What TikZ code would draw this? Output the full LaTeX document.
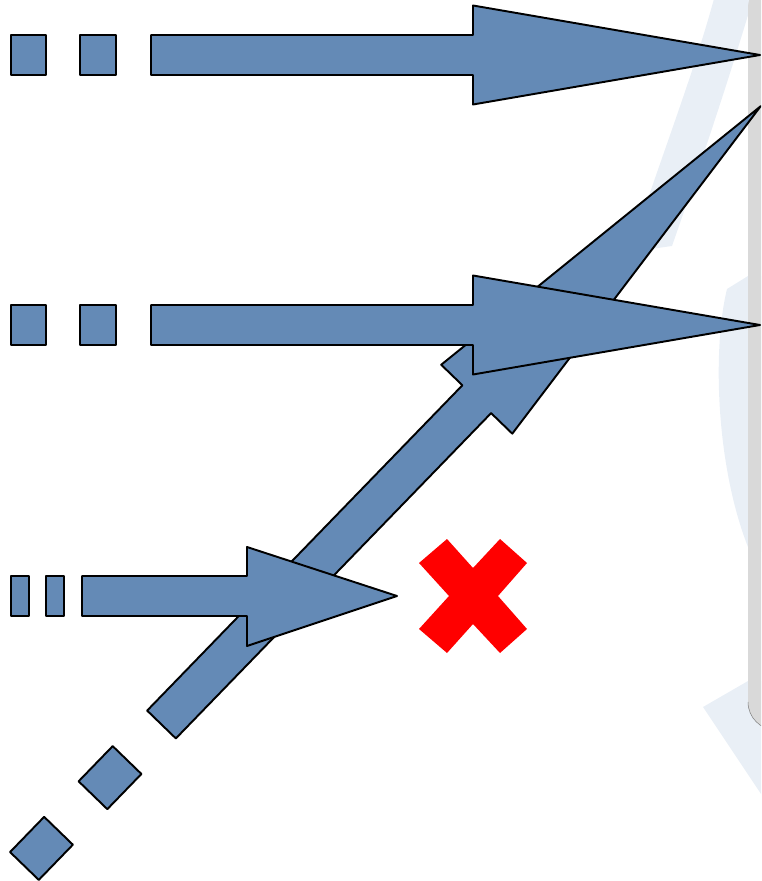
\documentclass[tikz,border=0pt]{standalone}
\usepackage{tikz}
\usetikzlibrary{positioning, calc}

\definecolor{arrowblue}{RGB}{100,138,182}
\definecolor{wmark}{RGB}{233,239,246}
\definecolor{bargray}{RGB}{217,217,217}

\begin{document}
\begin{tikzpicture}[x=0.02cm, y=-0.02cm,
    blockarrow/.style={fill=arrowblue, draw=black, line width=1.1pt, line join=round},
    cross/.style={fill=red}]
    \useasboundingbox (0,0) rectangle (761,881);
    \clip (0,0) rectangle (761,881);
    \fill[wmark] (715,-5) .. controls (695,70) and (660,160) .. (630,252)
        -- (672,246) .. controls (702,160) and (732,70) .. (754,-5) -- cycle;
    \fill[wmark] (748,276) -- (727,289) .. controls (712,350) and (716,470) .. (750,552)
        -- (780,552) -- (780,276) -- cycle;
    \fill[wmark] (703,707) -- (748,681) -- (780,681) -- (780,815) -- (775,815) -- cycle;
    \fill[bargray, rounded corners=0.56cm] (800,-20) -- (748,-20) -- (748,730) -- (800,730) -- cycle;
    \draw[gray, line width=0.3pt] (748,702) arc[start angle=180, end angle=270, radius=0.56cm];
    \begin{scope}[shift={(161.5,724.5)}, rotate=45.9]
        \draw[blockarrow] (-197,-20) rectangle (-148,20);
        \draw[blockarrow] (-98.5,-20) rectangle (-49.5,20);
        \draw[blockarrow] (0,-20) -- (453,-20) -- (453,-49.5) -- (861,0)
            -- (453,49.5) -- (453,20) -- (0,20) -- cycle;
    \end{scope}
    \draw[blockarrow] (11,35) rectangle (46,75);
    \draw[blockarrow] (80,35) rectangle (116,75);
    \draw[blockarrow] (151,35) -- (473,35) -- (473,5.5) -- (760,55)
        -- (473,104.5) -- (473,75) -- (151,75) -- cycle;
    \draw[blockarrow] (11,305) rectangle (46,345);
    \draw[blockarrow] (80,305) rectangle (116,345);
    \draw[blockarrow] (151,305) -- (473,305) -- (473,275.5) -- (760,325)
        -- (473,374.5) -- (473,345) -- (151,345) -- cycle;
    \draw[blockarrow] (11,576) rectangle (29,616);
    \draw[blockarrow] (46,576) rectangle (64,616);
    \draw[blockarrow] (82,576) -- (247,576) -- (247,547) -- (397,596)
        -- (247,646) -- (247,616) -- (82,616) -- cycle;
    \fill[cross] (419,563) -- (447,539) -- (473,568) -- (500,539) -- (527,563) -- (498,596)
        -- (527,629) -- (500,653) -- (473,624) -- (447,653) -- (419,629) -- (449,596) -- cycle;
\end{tikzpicture}
\end{document}
